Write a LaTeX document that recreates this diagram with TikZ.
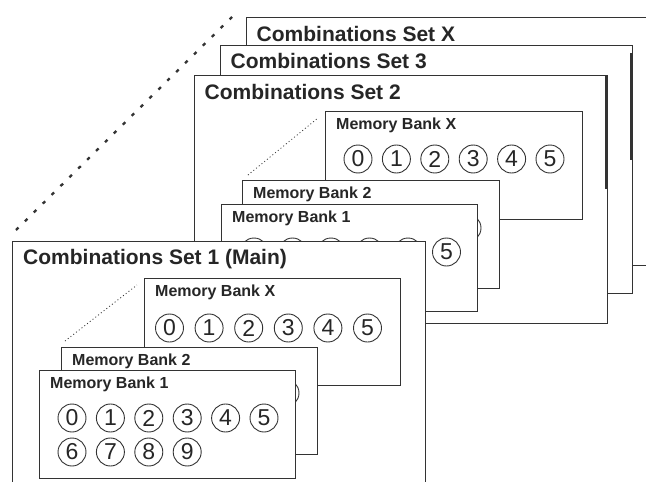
\documentclass[tikz,border=0pt]{standalone}
\usepackage{fontspec}
\setmainfont{Liberation Sans}
\usetikzlibrary{calc}
\definecolor{ink}{HTML}{333333}
\definecolor{txt}{HTML}{262626}
\tikzset{
  setbox/.style={draw=ink, line width=1.2pt, fill=white, rectangle, anchor=north west, inner sep=0pt,
                 minimum width=413pt, minimum height=248pt},
  bankbox/.style={draw=ink, line width=1.1pt, fill=white, rectangle, anchor=north west, inner sep=0pt,
                 minimum width=256pt, minimum height=108pt},
  setlabel/.style={anchor=base west, inner sep=0pt, text=txt, font=\bfseries\fontsize{21}{24}\selectfont},
  banklabel/.style={anchor=base west, inner sep=0pt, text=txt, font=\bfseries\fontsize{16}{19}\selectfont},
  digit/.style={circle, draw=ink, line width=0.9pt, fill=white, minimum size=28pt, inner sep=0pt,
                text=txt, font=\fontsize{23}{23}\selectfont},
  bigdots/.style={draw=ink, line width=2.3pt, dash pattern=on 3.5pt off 9pt},
  smalldots/.style={draw=ink, line width=0.8pt, dash pattern=on 1pt off 2.5pt},
  shade/.style={draw=ink, line width=2.2pt},
}
\begin{document}
\begin{tikzpicture}[x=1pt,y=-1pt]
\useasboundingbox (0,0) rectangle (646,482);
\clip (0,0) rectangle (646,482);

% ---------- Combinations Set X ----------
\node[setbox] (setX) at (246,17) {};
\node[setlabel] (setXl) at ($(setX.north west)+(10.5,24)$) {Combinations Set X};

% ---------- Combinations Set 3 ----------
\node[setbox, minimum width=412pt] (set3) at (220,45) {};
\node[setlabel] (set3l) at ($(set3.north west)+(10.5,23.5)$) {Combinations Set 3};
\draw[shade] (631.5,53) -- (631.5,160);

% ---------- Combinations Set 2 ----------
\node[setbox] (set2) at (194,75) {};
\node[setlabel] (set2l) at ($(set2.north west)+(10.5,24)$) {Combinations Set 2};
\draw[shade] (606.5,76) -- (606.5,189);

% bank X of set 2
\node[bankbox, minimum width=257pt] (bXb) at (325,111) {};
\node[banklabel] (bXbl) at ($(bXb.north west)+(11,18.5)$) {Memory Bank X};
\foreach \d in {0,...,5}{
  \node[digit] (bXb\d) at ($(bXb.north west)+(33+38.4*\d,48)$) {\d};
}
% bank 2 of set 2 (only its circle 5 shows)
\node[bankbox, minimum width=257pt] (b2b) at (242,180) {};
\node[banklabel] (b2bl) at ($(b2b.north west)+(11,18.5)$) {Memory Bank 2};
\node[digit] (b2b5) at ($(b2b.north west)+(33+38.4*5,48)$) {5};
\draw[smalldots] ($(b2b.north west)+(6,-5)$) coordinate (s2a) -- ($(bXb.north west)+(-7,7)$) coordinate (s2b);
% bank 1 of set 2 (circles 0-4 mostly hidden by set 1)
\node[bankbox, minimum height=107pt] (b1b) at (221,204) {};
\node[banklabel] (b1bl) at ($(b1b.north west)+(11,18.5)$) {Memory Bank 1};
\foreach \d in {0,...,4}{
  \node[digit] (b1b\d) at ($(b1b.north west)+(33+38.5*\d,48)$) {};
}
\node[digit] (b1b5) at ($(b1b.north west)+(33+38.5*5,48)$) {5};

% ---------- Combinations Set 1 (Main) ----------
\node[setbox, minimum height=270pt] (set1) at (12,241) {};
\node[setlabel] (set1l) at ($(set1.north west)+(11,23.5)$) {Combinations Set 1 (Main)};

% bank X of set 1
\node[bankbox, minimum height=107pt] (bXa) at (144,278) {};
\node[banklabel] (bXal) at ($(bXa.north west)+(11,18.5)$) {Memory Bank X};
\foreach \d in {0,...,5}{
  \node[digit] (bXa\d) at ($(bXa.north west)+(25.5+39.6*\d,50)$) {\d};
}
% bank 2 of set 1 (only its circle 5 shows)
\node[bankbox, minimum height=107pt] (b2a) at (61,347) {};
\node[banklabel] (b2al) at ($(b2a.north west)+(11,18.5)$) {Memory Bank 2};
\node[digit] (b2a5) at ($(b2a.north west)+(32+38.4*5,46)$) {5};
\draw[smalldots] ($(b2a.north west)+(4,-6)$) coordinate (s1a) -- ($(bXa.north west)+(-7,7)$) coordinate (s1b);
% bank 1 of set 1
\node[bankbox] (b1a) at (39,370) {};
\node[banklabel] (b1al) at ($(b1a.north west)+(11,18.5)$) {Memory Bank 1};
\foreach \d in {0,...,5}{
  \node[digit] (b1a\d) at ($(b1a.north west)+(33+38.4*\d,48)$) {\d};
}
\foreach \d [count=\i from 0] in {6,...,9}{
  \node[digit] (b1a\d) at ($(b1a.north west)+(33+38.4*\i,82)$) {\d};
}

% ---------- stacking dotted line ----------
\coordinate (d1) at ($(set1.north west)+(4,-11)$);
\coordinate (d2) at ($(setX.north west)+(-10,-4)$);
\draw[bigdots] (d1) -- (d2);
\end{tikzpicture}
\end{document}
